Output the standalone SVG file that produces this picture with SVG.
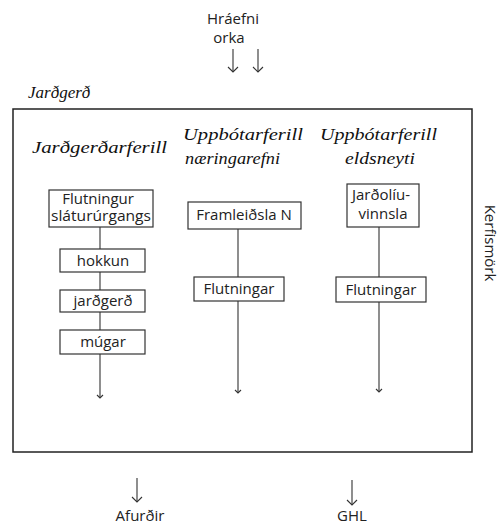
<svg xmlns="http://www.w3.org/2000/svg" width="500" height="524" viewBox="0 0 500 524">
  <style>
    .sans { font-family: "Open Sans", "DejaVu Sans", sans-serif; font-size: 15px; fill: #222; }
    .ital { font-family: "Liberation Serif", "Times New Roman", serif; font-style: italic; font-size: 17px; fill: #111; }
    .box { fill: #fff; stroke: #333; stroke-width: 1.2; }
    .frame { fill: none; stroke: #222; stroke-width: 1.5; }
    .wire { fill: none; stroke: #333; stroke-width: 1.1; }
    .head { fill: none; stroke: #333; stroke-width: 1.1; stroke-linejoin: miter; }
  </style>

  <rect width="500" height="524" fill="#fff"/>

  <!-- system boundary -->
  <rect id="boundary" class="frame" x="13" y="109" width="459" height="343"/>
  <text class="ital" x="28" y="98" font-size="15">Jarðgerð</text>
  <text class="sans" transform="translate(485,243) rotate(90)" text-anchor="middle" font-size="14.5">Kerfismörk</text>

  <!-- inputs -->
  <g id="inputs">
    <text class="sans" x="233" y="24" text-anchor="middle" font-size="14.5">Hráefni</text>
    <text class="sans" x="229" y="43" text-anchor="middle" font-size="14.5">orka</text>
  </g>

  <!-- column headings -->
  <g id="headings">
    <text class="ital" x="32" y="153" textLength="135" lengthAdjust="spacingAndGlyphs">Jarðgerðarferill</text>
    <text class="ital" x="183" y="140" textLength="120" lengthAdjust="spacingAndGlyphs">Uppbótarferill</text>
    <text class="ital" x="185" y="164" textLength="95" lengthAdjust="spacingAndGlyphs">næringarefni</text>
    <text class="ital" x="320" y="140" textLength="117" lengthAdjust="spacingAndGlyphs">Uppbótarferill</text>
    <text class="ital" x="345" y="164" textLength="70" lengthAdjust="spacingAndGlyphs">eldsneyti</text>
  </g>

  <!-- connectors -->
  <g id="connectors">
    <!-- inputs -->
    <path class="wire" d="M233 49V72M258 49V72"/>
    <path class="head" d="M228 67L233 72L238 67M253 67L258 72L263 67"/>
    <!-- column 1 -->
    <path class="wire" d="M100 227V249M100 272V290M100 312V330M100 354V398"/>
    <path class="head" d="M97 395L100 398L103 395"/>
    <!-- column 2 -->
    <path class="wire" d="M238 229V277M238 301V393"/>
    <path class="head" d="M235 390L238 393L241 390"/>
    <!-- column 3 -->
    <path class="wire" d="M379 227V277M379 302V392"/>
    <path class="head" d="M376 389L379 392L382 389"/>
    <!-- outputs -->
    <path class="wire" d="M137 478V502M352 480V505"/>
    <path class="head" d="M132 497L137 502L142 497M347 500L352 505L357 500"/>
  </g>

  <!-- column 1 nodes -->
  <g id="flutningur-slaturur">
    <rect class="box" x="49" y="190" width="104" height="37"/>
    <text class="sans" text-anchor="middle" font-size="13.5">
      <tspan x="100" y="204">Flutningur</tspan>
      <tspan x="101" y="221" textLength="100" lengthAdjust="spacingAndGlyphs">sláturúrgangs</tspan>
    </text>
  </g>
  <g id="hokkun">
    <rect class="box" x="60" y="249" width="85" height="23"/>
    <text class="sans" x="103" y="266" text-anchor="middle">hokkun</text>
  </g>
  <g id="jardgerd">
    <rect class="box" x="60" y="290" width="85" height="22"/>
    <text class="sans" x="103" y="306" text-anchor="middle">jarðgerð</text>
  </g>
  <g id="mugar">
    <rect class="box" x="60" y="330" width="85" height="24"/>
    <text class="sans" x="103" y="347" text-anchor="middle">múgar</text>
  </g>

  <!-- column 2 nodes -->
  <g id="framleidsla-n">
    <rect class="box" x="188" y="202" width="113" height="27"/>
    <text class="sans" x="244" y="220" text-anchor="middle">Framleiðsla N</text>
  </g>
  <g id="flutningar-n">
    <rect class="box" x="194" y="277" width="90" height="24"/>
    <text class="sans" x="239" y="294" text-anchor="middle">Flutningar</text>
  </g>

  <!-- column 3 nodes -->
  <g id="jardoliuvinnsla">
    <rect class="box" x="347" y="184" width="72" height="43"/>
    <text class="sans" text-anchor="middle">
      <tspan x="383" y="200">Jarðolíu-</tspan>
      <tspan x="383" y="219">vinnsla</tspan>
    </text>
  </g>
  <g id="flutningar-e">
    <rect class="box" x="336" y="277" width="90" height="25"/>
    <text class="sans" x="381" y="295" text-anchor="middle">Flutningar</text>
  </g>

  <!-- outputs -->
  <g id="outputs">
    <text class="sans" x="140" y="521" text-anchor="middle">Afurðir</text>
    <text class="sans" x="352" y="521" text-anchor="middle">GHL</text>
  </g>
</svg>
